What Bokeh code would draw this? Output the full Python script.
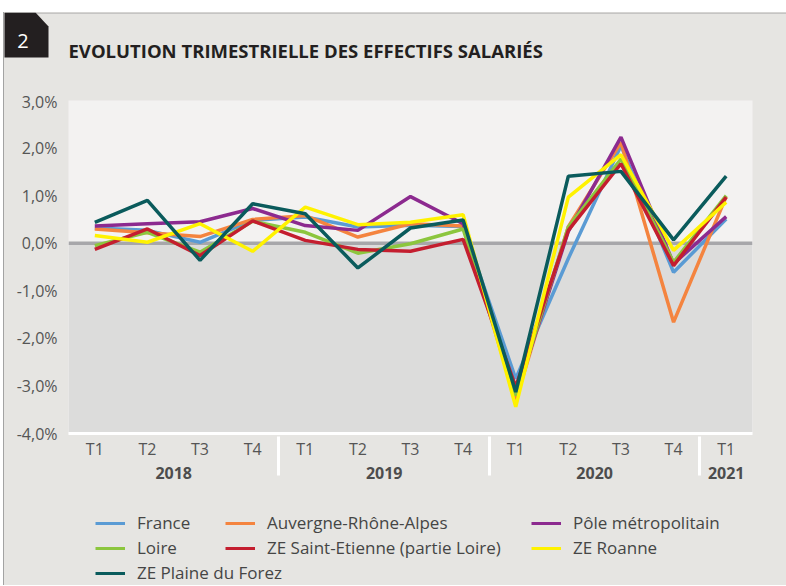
import numpy as np
from bokeh.plotting import figure
from bokeh.models import (FactorRange, ColumnDataSource, Span, BoxAnnotation, Label, Legend,
                          LegendItem, CustomJSTickFormatter, FixedTicker, PolyAnnotation, Spacer,
                          Range1d)
from bokeh.layouts import column, row
from bokeh.embed import file_html
from bokeh.resources import INLINE

# ---- data ----
years = ["2018", "2019", "2020", "2021"]
quarters = [["T1", "T2", "T3", "T4"], ["T1", "T2", "T3", "T4"], ["T1", "T2", "T3", "T4"], ["T1"]]
france = [0.32, 0.27, 0.02, 0.48, 0.55, 0.34, 0.38, 0.35, -2.85, -0.32, 2.05, -0.61, 0.51]
ara = [0.30, 0.22, 0.14, 0.50, 0.58, 0.13, 0.41, 0.36, -3.30, 0.35, 2.12, -1.66, 0.98]
pole = [0.36, 0.41, 0.45, 0.73, 0.37, 0.27, 0.98, 0.41, -3.20, 0.25, 2.23, -0.43, 0.56]
loire = [-0.05, 0.23, -0.19, 0.46, 0.23, -0.21, -0.01, 0.30, -3.20, 0.34, 1.77, -0.40, 1.00]
st_etienne = [-0.13, 0.30, -0.26, 0.47, 0.06, -0.13, -0.17, 0.08, -3.02, 0.27, 1.67, -0.47, 0.97]
roanne = [0.16, 0.02, 0.41, -0.17, 0.76, 0.39, 0.44, 0.60, -3.44, 0.97, 1.86, -0.15, 0.86]
plaine = [0.44, 0.90, -0.36, 0.83, 0.62, -0.52, 0.32, 0.49, -3.13, 1.41, 1.51, 0.07, 1.41]

names = ["France", "Auvergne-Rhône-Alpes", "Pôle métropolitain", "Loire",
         "ZE Saint-Etienne (partie Loire)", "ZE Roanne", "ZE Plaine du Forez"]
colors = ["#5a9bd4", "#f4843f", "#8c2a8f", "#8cc63e", "#c41e2f", "#fff200", "#0a5b5c"]
series = [france, ara, pole, loire, st_etienne, roanne, plaine]
y_ticks = [-4, -3, -2, -1, 0, 1, 2, 3]
title_text = "EVOLUTION TRIMESTRIELLE DES EFFECTIFS SALARIÉS"
badge_text = "2"

factors = [(y, q) for y, qs in zip(years, quarters) for q in qs]

FONT = "Open Sans"
TXT = "#555555"
BG = "#e6e5e2"
EDGE = "#a3a3a3"
W = 782          # figures span x = 4 .. 786 of the page
BG_STYLE = {"background-color": BG}


def plain_fig(h):
    f = figure(width=W, height=h, x_range=Range1d(0, W), y_range=Range1d(0, h),
               x_axis_type=None, y_axis_type=None, output_backend="svg", toolbar_location=None,
               min_border=0, styles=BG_STYLE)
    f.background_fill_color = BG
    f.border_fill_color = BG
    f.outline_line_color = None
    f.xgrid.grid_line_color = None
    f.ygrid.grid_line_color = None
    return f


def edge(h):
    # 3px white margin then the 1px grey frame line of the card
    return Spacer(width=4, height=h,
                  styles={"background": f"linear-gradient(to right, white 3px, {EDGE} 3px)"})


# ---- header (badge + title) ----
top = plain_fig(78)
top.add_layout(BoxAnnotation(left=0, right=W, bottom=77, top=78, left_units="screen",
                             right_units="screen", bottom_units="screen", top_units="screen",
                             fill_color=EDGE, fill_alpha=1, line_color=None))
top.add_layout(PolyAnnotation(xs=[-1, 31, 44, 44, -1], ys=[78, 78, 64, 33, 33],
                              xs_units="screen", ys_units="screen",
                              fill_color="#231f20", fill_alpha=1, line_color=None))
top.add_layout(Label(x=18.5, y=50, x_units="screen", y_units="screen", text=badge_text,
                     text_align="center", text_baseline="middle", text_color="white",
                     text_font=FONT, text_font_size="20px"))
top.add_layout(Label(x=64, y=40, x_units="screen", y_units="screen", text=title_text,
                     text_align="left", text_baseline="alphabetic", text_color="#231f20",
                     text_font=FONT, text_font_size="18.5px", text_font_style="bold"))

# ---- main chart ----
p = figure(x_range=FactorRange(*factors, factor_padding=0, group_padding=0, range_padding=0),
           y_range=(-4, 3), width=W, height=400, output_backend="svg", toolbar_location=None,
           min_border_left=64, min_border_right=34, min_border_top=10, min_border_bottom=57,
           styles=BG_STYLE)
p.background_fill_color = "#f3f2f1"
p.border_fill_color = BG
p.outline_line_color = None
p.xgrid.grid_line_color = None
p.ygrid.grid_line_color = None

p.add_layout(BoxAnnotation(top=0, fill_color="#dcdcdb", fill_alpha=1, line_color=None, level="underlay"))
p.add_layout(Span(location=0, dimension="width", line_color="#a7a7aa", line_width=3.5, level="underlay"))

for name, col, vals in zip(names, colors, series):
    src = ColumnDataSource(dict(x=factors, y=vals))
    p.line("x", "y", source=src, line_color=col, line_width=3.5)

ya = p.yaxis[0]
ya.ticker = FixedTicker(ticks=y_ticks)
ya.formatter = CustomJSTickFormatter(code="return tick.toFixed(1).replace('.', ',') + '%';")
ya.axis_line_color = None
ya.major_tick_line_color = None
ya.minor_tick_line_color = None
ya.major_tick_out = 0
ya.major_tick_in = 0
ya.major_label_standoff = 11
ya.major_label_text_font = FONT
ya.major_label_text_font_size = "16px"
ya.major_label_text_color = TXT

xa = p.xaxis[0]
xa.axis_line_color = "white"
xa.axis_line_width = 3
xa.major_tick_line_color = None
xa.minor_tick_line_color = None
xa.major_tick_out = 0
xa.major_tick_in = 0
xa.major_label_text_font = FONT
xa.major_label_text_font_size = "16px"
xa.major_label_text_color = TXT
xa.major_label_standoff = 4
xa.group_text_font = FONT
xa.group_text_font_size = "16px"
xa.group_text_color = "#4d4d4d"
xa.group_text_font_style = "bold"
xa.separator_line_color = "white"
xa.separator_line_width = 3

# ---- legend ----
leg = plain_fig(95)
dummy = [leg.line(x=np.array([np.nan]), y=np.array([np.nan]), line_color=c, line_width=3)
         for c in colors]


def mk_legend(idx, loc):
    lg = Legend(items=[LegendItem(label=names[i], renderers=[dummy[i]]) for i in idx],
                location=loc, orientation="vertical", glyph_width=30, glyph_height=20,
                label_height=20, spacing=2, padding=0, margin=0, label_standoff=12,
                background_fill_alpha=0, border_line_color=None,
                label_text_font=FONT, label_text_font_size="17px", label_text_color="#454545")
    leg.add_layout(lg)


mk_legend([0, 3, 6], (91, 1))
mk_legend([1, 4], (221, 26))
mk_legend([2, 5], (527, 26))

roots = [column(Spacer(height=12), row(edge(78), top, styles=BG_STYLE)),
         row(edge(400), p, styles=BG_STYLE),
         row(edge(95), leg, styles=BG_STYLE)]
open("out.html", "w").write(file_html(roots, INLINE))
